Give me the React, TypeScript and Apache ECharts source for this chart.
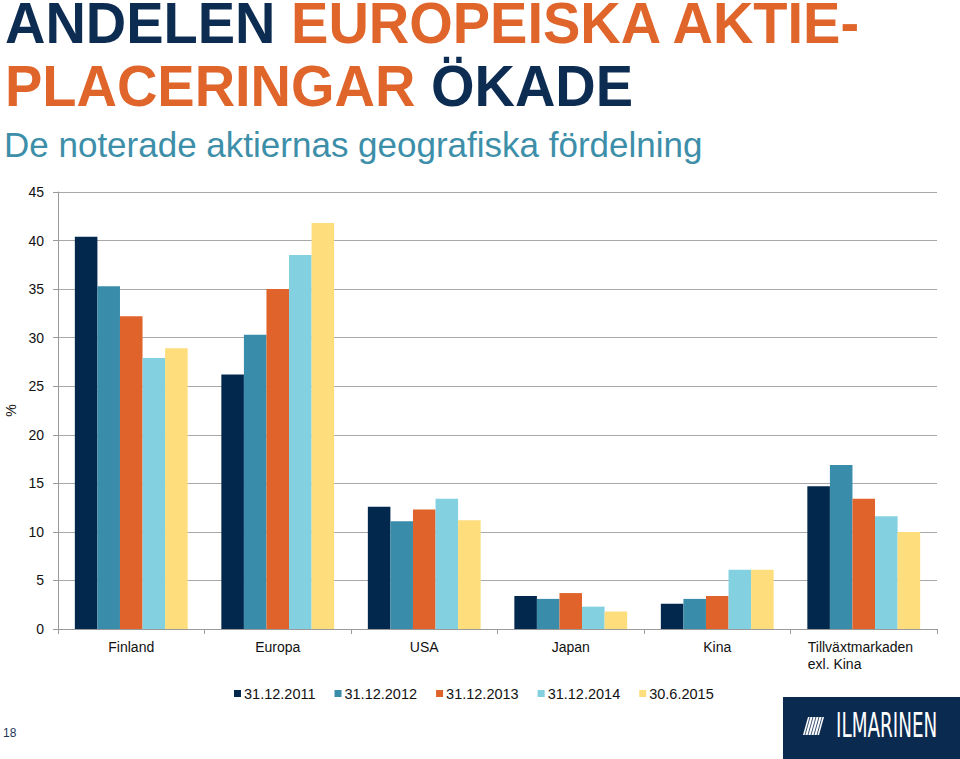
import React, { useEffect, useRef } from "react";
import * as echarts from "echarts";

const categories = ["Finland", "Europa", "USA", "Japan", "Kina", "Tillväxtmarkaden\nexl. Kina"];
const seriesNames = ["31.12.2011", "31.12.2012", "31.12.2013", "31.12.2014", "30.6.2015"];
const s2011 = [40.4, 26.2, 12.6, 3.4, 2.6, 14.7];
const s2012 = [35.3, 30.3, 11.1, 3.1, 3.1, 16.9];
const s2013 = [32.2, 35.0, 12.3, 3.7, 3.4, 13.4];
const s2014 = [27.9, 38.5, 13.4, 2.3, 6.1, 11.6];
const s2015 = [28.9, 41.8, 11.2, 1.8, 6.1, 10.0];
const seriesColors = ["#03284d", "#3a8cab", "#e0632b", "#83d0e0", "#fddd7c"];

const NAVY = "#0d2c52";
const ORANGE = "#e0652b";

export default function App() {
  const ref = useRef<HTMLDivElement>(null);
  useEffect(() => {
    if (!ref.current) return;
    const chart = echarts.init(ref.current, null, { renderer: "svg" });
    const data = [s2011, s2012, s2013, s2014, s2015];
    const font = "Liberation Sans, Arial, sans-serif";
    const titleRich = {
      a: { fontSize: 58, lineHeight: 46, fontWeight: "bold", fill: NAVY, fontFamily: font },
      b: { fontSize: 58, lineHeight: 46, fontWeight: "bold", fill: ORANGE, fontFamily: font },
    };
    chart.setOption({
      animation: false,
      backgroundColor: "#ffffff",
      textStyle: { fontFamily: font },
      grid: { left: 58, right: 23, top: 192, bottom: 130, outerBoundsMode: "none", containLabel: false },
      legend: {
        data: seriesNames,
        left: 229,
        top: 681,
        itemWidth: 7,
        itemHeight: 7,
        itemGap: 19,
        icon: "rect",
        textStyle: { fontSize: 14.5, color: "#111", fontFamily: font, padding: [0, 0, 0, -2] },
      },
      xAxis: {
        type: "category",
        data: categories,
        axisLine: { lineStyle: { color: "#9a9a9a", width: 1 } },
        axisTick: { show: true, length: 5, lineStyle: { color: "#9a9a9a" } },
        axisLabel: {
          interval: 0,
          fontSize: 14,
          color: "#111",
          margin: 9,
          lineHeight: 17,
          formatter: (v: string) => {
            if (v.indexOf("\n") >= 0) {
              return v.split("\n").map((p) => "{l|" + p + "}").join("\n");
            }
            return v;
          },
          rich: { l: { width: 112, align: "left", fontSize: 14, color: "#111", lineHeight: 17 } },
        },
      },
      yAxis: {
        type: "value",
        min: 0,
        max: 45,
        interval: 5,
        name: "%",
        nameLocation: "middle",
        nameGap: 33,
        nameRotate: 90,
        nameTextStyle: { fontSize: 14, color: "#111" },
        axisLine: { show: true, lineStyle: { color: "#9a9a9a" } },
        axisTick: { show: true, length: 5, lineStyle: { color: "#9a9a9a" } },
        axisLabel: { fontSize: 14, color: "#111", margin: 14 },
        splitLine: { lineStyle: { color: "#a8a8a8", width: 1 } },
      },
      series: seriesNames.map((name, i) => ({
        name,
        type: "bar",
        data: data[i],
        barGap: "0%",
        barCategoryGap: "23%",
        itemStyle: { color: seriesColors[i] },
      })),
      graphic: [
        {
          type: "text",
          x: 5,
          y: 0,
          scaleX: 0.965,
          style: { text: "{a|ANDELEN }{b|EUROPEISKA AKTIE-}", rich: titleRich },
        },
        {
          type: "text",
          x: 5,
          y: 63,
          scaleX: 0.965,
          style: { text: "{b|PLACERINGAR }{a|ÖKADE}", rich: titleRich },
        },
        {
          type: "text",
          x: 4,
          y: 127,
          style: {
            text: "De noterade aktiernas geografiska fördelning",
            fontSize: 35,
            fill: "#3d8fa9",
            fontFamily: font,
          },
        },
        {
          type: "text",
          x: 3,
          y: 727,
          style: { text: "18", fontSize: 12, fill: "#1d3557", fontFamily: font },
        },
        {
          type: "rect",
          shape: { x: 783, y: 697, width: 177, height: 62 },
          style: { fill: "#0b2a50" },
        },
        {
          type: "polygon",
          shape: { points: [[808, 717], [824, 717], [819, 735], [803, 735]] },
          style: { fill: "#ffffff" },
        },
        ...[0, 1, 2, 3, 4].map((k) => ({
          type: "line",
          shape: { x1: 810 + k * 3, y1: 717, x2: 805 + k * 3, y2: 735 },
          style: { stroke: "#0b2a50", lineWidth: 0.8 },
        })),
        {
          type: "text",
          x: 836,
          y: 708,
          scaleX: 0.54,
          style: {
            text: "ILMARINEN",
            fontSize: 34,
            fill: "#ffffff",
            fontFamily: "DejaVu Sans, sans-serif",
            fontWeight: "normal",
          },
        },
      ],
    });
    return () => chart.dispose();
  }, []);
  return (
    <div
      ref={ref}
      style={{ position: "absolute", left: 0, top: 0, width: 960, height: 759 }}
    />
  );
}
